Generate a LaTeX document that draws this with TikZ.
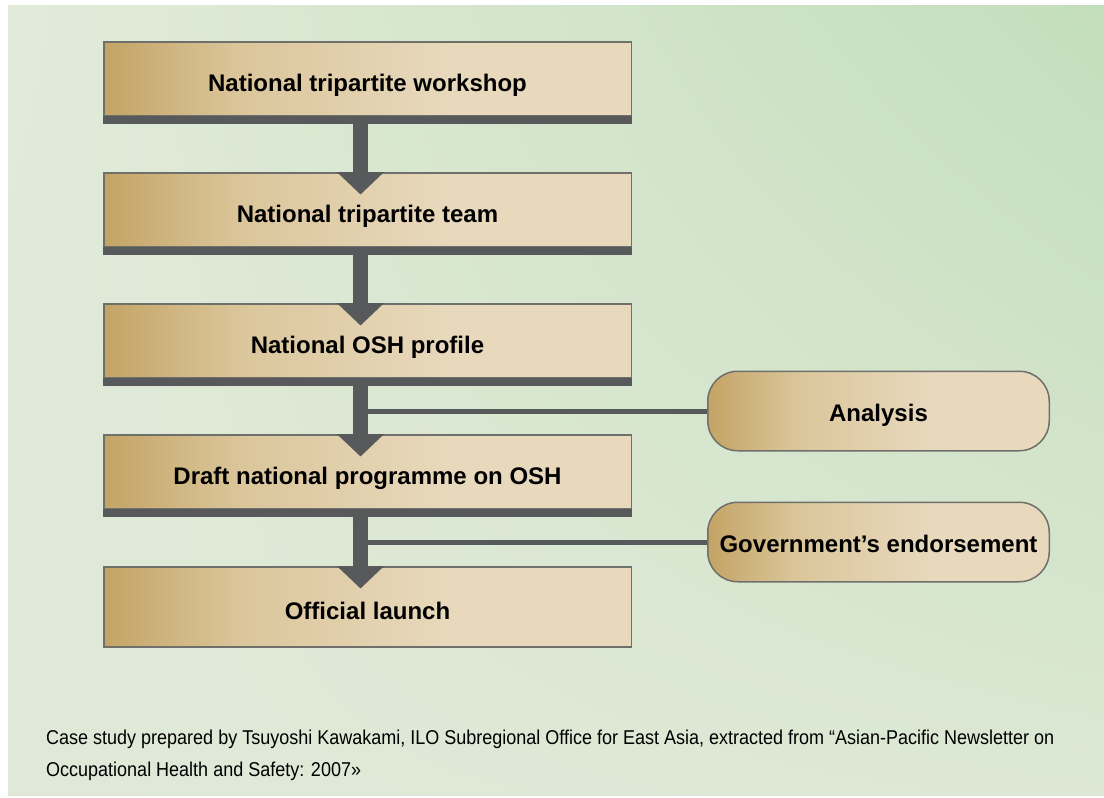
\documentclass[tikz,border=0pt]{standalone}
\usepackage{fontspec}
\setmainfont{Liberation Sans}
\newfontfamily\notefont{Liberation Sans}[FakeStretch=0.9]
\usetikzlibrary{arrows.meta,shadings}

\definecolor{bargray}{HTML}{58595B}
\definecolor{edgegray}{HTML}{6F6F6B}
\definecolor{tanA}{HTML}{C4A465}
\definecolor{tanB}{HTML}{DBC69B}
\definecolor{tanC}{HTML}{E8D9BD}
\definecolor{bgUL}{HTML}{E2EBDA}
\definecolor{bgUR}{HTML}{C3DEBB}
\definecolor{bgLL}{HTML}{E0E9D8}
\definecolor{bgLR}{HTML}{DCE8D4}

% tan fill: dark at the left edge, light over most of the box
\pgfdeclarehorizontalshading{boxshade}{100bp}{color(0bp)=(tanA); color(25bp)=(tanA); color(38bp)=(tanB); color(58bp)=(tanC); color(100bp)=(tanC)}

\begin{document}
\begin{tikzpicture}[x=1pt,y=-1pt,
  stepbox/.style={draw=edgegray, line width=1.5pt, shading=boxshade,
    anchor=north west, minimum width=527.5pt, minimum height=73.5pt, inner sep=0pt,
    font=\bfseries\fontsize{24}{28}\selectfont, text height=26pt, text depth=0pt},
  sidebox/.style={draw=edgegray, line width=1.5pt, shading=boxshade,
    rounded corners=30pt, minimum width=341.5pt, minimum height=79.5pt, inner sep=0pt,
    font=\bfseries\fontsize{24}{28}\selectfont, text height=20pt, text depth=0pt},
  bar/.style={fill=bargray},
  flow/.style={draw=bargray, line width=15.6pt, -{Triangle[width=46pt,length=22.5pt]}},
  branch/.style={draw=bargray, line width=5pt},
]
\useasboundingbox (0,0) rectangle (1104,798);
\fill[white] (0,0) rectangle (1104,798);
\shade[upper left=bgUL, upper right=bgUR, lower left=bgLL, lower right=bgLR]
  (8,5) rectangle (1104,795);

% main sequence
\node[stepbox] (b1) at (103,41)  {National tripartite workshop};
\node[stepbox] (b2) at (103,172) {National tripartite team};
\node[stepbox] (b3) at (103,303) {National OSH profile};
\node[stepbox] (b4) at (103,434) {Draft national programme on OSH};
\node[stepbox, minimum height=80pt] (b5) at (103,566) {Official launch};

% side inputs
\node[sidebox] (an) at (878.5,411) {Analysis};
\node[sidebox] (ge) at (878.5,542) {Government’s endorsement};

% dark base bars
\foreach \b in {b1,b2,b3,b4}
  \fill[bar] (\b.south west) rectangle ([yshift=-8pt]\b.south east);

% shaft positions
\foreach \b in {b1,b2,b3,b4}
  \coordinate (\b s) at ([xshift=-7pt,yshift=-8pt]\b.south);

% side branches
\draw[branch] (an.west) -- (an.west -| b3s);
\draw[branch] (ge.west) -- (ge.west -| b4s);

% arrows
\draw[flow] (b1s) -- ([xshift=-7pt,yshift=-22.5pt]b2.north);
\draw[flow] (b2s) -- ([xshift=-7pt,yshift=-22.5pt]b3.north);
\draw[flow] (b3s) -- ([xshift=-7pt,yshift=-22.5pt]b4.north);
\draw[flow] (b4s) -- ([xshift=-7pt,yshift=-22.5pt]b5.north);

% source note (anchored on the baseline of its last line)
\node[anchor=base west, align=left, inner sep=0pt,
  font=\notefont\fontsize{20}{32}\selectfont] (note) at (46,776)
  {Case study prepared by Tsuyoshi Kawakami, ILO Subregional Office for East Asia, extracted from “Asian-Pacific Newsletter on\\
   Occupational Health and Safety: 2007»};
\end{tikzpicture}
\end{document}
